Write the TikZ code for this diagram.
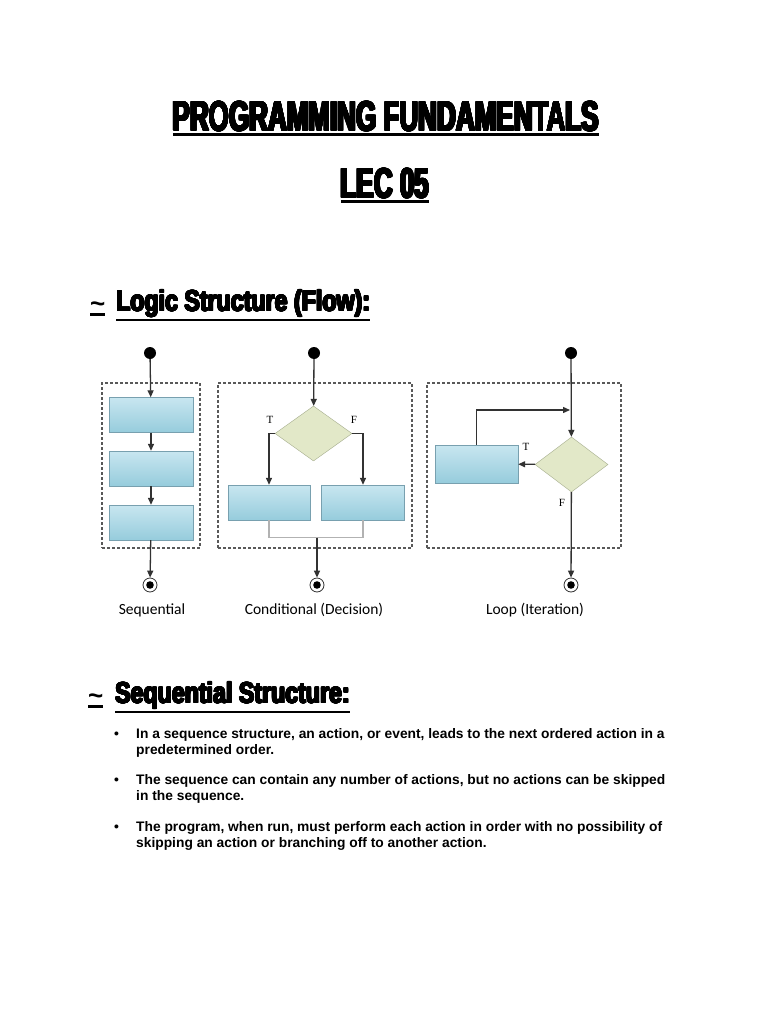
\documentclass[tikz,border=0pt]{standalone}
\usepackage{fontspec}
\setmainfont{Liberation Sans}
\newfontfamily\titlefont[FakeStretch=0.62]{Liberation Sans}
\newfontfamily\secfont[FakeStretch=0.8]{Liberation Sans}
\newfontfamily\figfont{Carlito}
\newfontfamily\tffont{Liberation Serif}
\usepackage[copies]{contour}
\contournumber{24}
\usetikzlibrary{positioning,arrows.meta,shapes.geometric}
\definecolor{boxtop}{RGB}{200,230,240}
\definecolor{boxmid}{RGB}{236,246,250}
\definecolor{boxbot}{RGB}{150,204,220}
\definecolor{boxline}{RGB}{120,160,175}
\definecolor{diafill}{RGB}{226,232,200}
\definecolor{dialine}{RGB}{165,172,140}
\definecolor{flow}{RGB}{50,50,50}
\newcommand{\headul}[1]{\setbox0=\hbox{#1}\rlap{\vrule width\wd0 height\dimexpr-\dp0-1pt\relax depth\dimexpr\dp0+3.5pt\relax}\box0}
\newcommand{\heavy}[2]{\contourlength{#1}\contour{black}{#2}}

\begin{document}
\begin{tikzpicture}[x=1pt,y=-1pt,>={Triangle[length=7pt,width=6pt]},
  frame/.style={draw=black!65,dash pattern=on 3pt off 2pt,line width=1.2pt,minimum height=165pt,inner sep=0pt},
  act/.style={draw=boxline,top color=boxtop,middle color=boxmid,bottom color=boxbot,minimum height=35pt,inner sep=0pt},
  test/.style={diamond,draw=dialine,fill=diafill,minimum height=55pt,inner sep=0pt},
  startpt/.style={circle,fill=black,minimum size=12pt,inner sep=0pt},
  endpt/.style={circle,draw=flow,thick,minimum size=14pt,inner sep=0pt,
    path picture={\fill[black] (path picture bounding box.center) circle (3.8pt);}},
  flowline/.style={draw=flow,line width=1.3pt},
  body/.style={anchor=base west,inner sep=0pt,align=left,font=\fontsize{13.8}{16}\selectfont\bfseries}]
\useasboundingbox[fill=white] (0,0) rectangle (768,1024);

% headings
\node[anchor=base,inner sep=0pt,font=\fontsize{42}{42}\selectfont\titlefont\bfseries] (title) at (386,131) {\headul{\heavy{0.9pt}{PROGRAMMING FUNDAMENTALS}}};
\node[anchor=base,inner sep=0pt,font=\fontsize{42}{42}\selectfont\titlefont\bfseries] (lec) at (385,198) {\headul{\heavy{0.9pt}{LEC 05}}};
\node[anchor=base west,inner sep=0pt,font=\fontsize{26}{26}\selectfont\bfseries] (tilde1) at (90,312) {\headul{\textasciitilde}};
\node[anchor=base west,inner sep=0pt,font=\fontsize{29}{29}\selectfont\secfont\bfseries] (logic) at (116,311) {\headul{\heavy{0.7pt}{Logic Structure (Flow):}}};

% frames
\node[frame,minimum width=98pt] (seqframe) at (151,465.5) {};
\node[frame,minimum width=194pt] (condframe) at (315,465.5) {};
\node[frame,minimum width=194pt] (loopframe) at (524,465.5) {};

% sequential
\node[startpt] (s1) at (150,353) {};
\node[act,minimum width=84pt] (q1) at (151,415) {};
\node[act,minimum width=84pt] (q2) at (151,468.5) {};
\node[act,minimum width=84pt] (q3) at (151,522.5) {};
\node[endpt] (e1) at (150,585) {};
\draw[flowline,->] (s1) -- (q1);
\draw[flowline,->] (q1) -- (q2);
\draw[flowline,->] (q2) -- (q3);
\draw[flowline,->] (q3) -- (e1);

% conditional
\node[startpt] (s2) at (314,353) {};
\node[test,minimum width=77pt] (d2) at (313.5,433.5) {};
\node[act,minimum width=82pt] (c2l) at (269,502.5) {};
\node[act,minimum width=83pt] (c2r) at (363,502.5) {};
\coordinate (j2) at (317,537.5);
\node[endpt] (e2) at (317,585) {};
\draw[flowline,->] (s2) -- (d2);
\draw[flowline,->] (d2.west) -| (c2l);
\draw[flowline,->] (d2.east) -| (c2r);
\draw[draw=gray!60,line width=1.2pt] (c2l) |- (j2) -| (c2r);
\draw[flowline,->] (j2) -- (e2);
\node[font=\fontsize{11}{11}\selectfont\tffont] (t2) at (270,420) {T};
\node[font=\fontsize{11}{11}\selectfont\tffont] (f2) at (354,420) {F};

% loop
\node[startpt] (s3) at (571,353) {};
\node[test,minimum width=73pt] (d3) at (571.5,464.5) {};
\node[act,minimum width=83pt,minimum height=38pt] (r3) at (476.5,464) {};
\coordinate (m3) at (570,410);
\node[endpt] (e3) at (571,585) {};
\draw[flowline,->] (s3) -- (d3);
\draw[flowline,->] (d3) -- (r3);
\draw[flowline,->] (r3.north) |- (m3);
\draw[flowline,->] (d3) -- (e3);
\node[font=\fontsize{11}{11}\selectfont\tffont] (t3) at (526,447) {T};
\node[font=\fontsize{11}{11}\selectfont\tffont] (f3) at (562,503) {F};

% captions
\node[font=\fontsize{15.5}{15.5}\selectfont\figfont] (cap1) at (152,610) {Sequential};
\node[font=\fontsize{15.5}{15.5}\selectfont\figfont] (cap2) at (314,610) {Conditional (Decision)};
\node[font=\fontsize{15.5}{15.5}\selectfont\figfont] (cap3) at (535,610) {Loop (Iteration)};

% sequential structure
\node[anchor=base west,inner sep=0pt,font=\fontsize{26}{26}\selectfont\bfseries] (tilde2) at (88,704) {\headul{\textasciitilde}};
\node[anchor=base west,inner sep=0pt,font=\fontsize{29}{29}\selectfont\secfont\bfseries] (seqhead) at (115,703) {\headul{\heavy{0.7pt}{Sequential Structure:}}};
\node[body] (b1) at (114,738) {\textbullet};
\node[body] (p1) at (136,754) {In a sequence structure, an action, or event, leads to the next ordered action in a\\predetermined order.};
\node[body] (b2) at (114,784) {\textbullet};
\node[body] (p2) at (136,800) {The sequence can contain any number of actions, but no actions can be skipped\\in the sequence.};
\node[body] (b3) at (114,831) {\textbullet};
\node[body] (p3) at (136,847) {The program, when run, must perform each action in order with no possibility of\\skipping an action or branching off to another action.};
\end{tikzpicture}
\end{document}
